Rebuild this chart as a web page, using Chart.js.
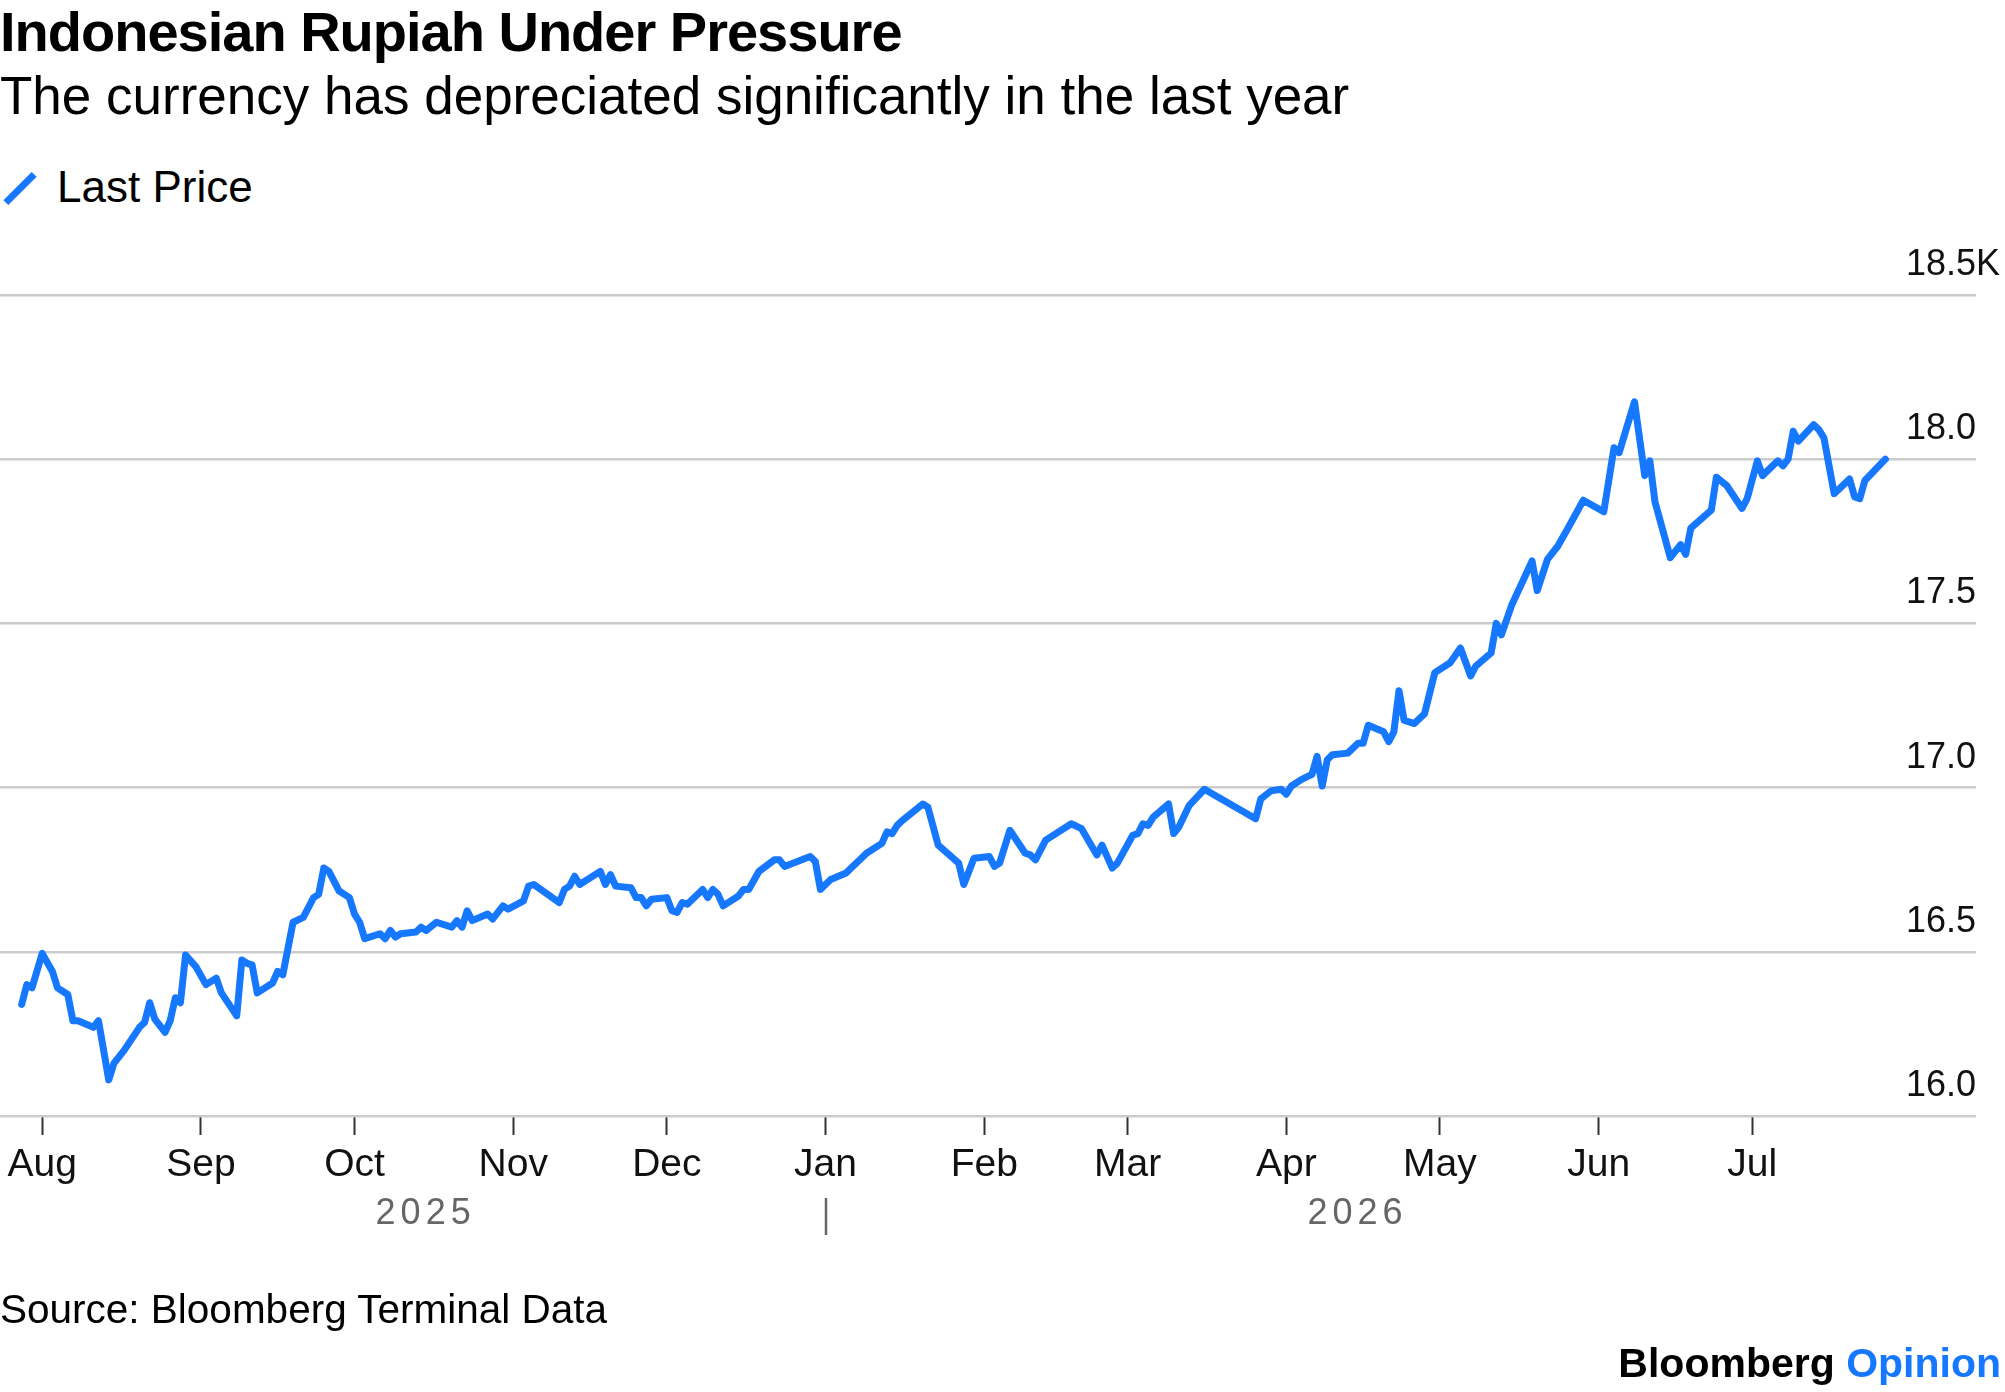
<!DOCTYPE html>
<html lang="en">

<head>
    <meta charset="UTF-8">
    <title>Indonesian Rupiah Under Pressure</title>
    <script src="https://cdn.jsdelivr.net/npm/chart.js"></script>
    <style>
        body {
            margin: 0;
            width: 2005px;
            height: 1392px;
            overflow: hidden;
            background: #fff;
            font-family: "Liberation Sans", Arial, sans-serif;
            color: #000;
        }

        .txt {
            position: absolute;
            white-space: nowrap;
            line-height: 1;
        }

        #chart {
            position: absolute;
            left: 0;
            top: 0;
        }
    </style>
</head>

<body>

    <div class="txt" style="left:0;top:4px;font-size:56px;font-weight:bold;letter-spacing:-1px">Indonesian Rupiah Under Pressure</div>
    <div class="txt" style="left:0;top:69px;font-size:53px">The currency has depreciated significantly in the last year</div>

    <!-- legend -->
    <div style="position:absolute;left:0;top:185px;width:40px;height:7px;background:#1677ff;transform:rotate(-45deg)"></div>
    <div class="txt" style="left:57px;top:165px;font-size:44px">Last Price</div>

    <canvas id="chart" width="2005" height="1392"></canvas>

    <div class="txt" style="left:0;top:1289px;font-size:40.5px">Source: Bloomberg Terminal Data</div>
    <div class="txt" style="right:4px;top:1343px;font-size:41px;font-weight:bold">Bloomberg <span style="color:#1677ff">Opinion</span></div>

    <script>
        // USD/IDR last price
        const dates = [
            '2025-07-28', '2025-07-29', '2025-07-30', '2025-08-01', '2025-08-03', '2025-08-04', '2025-08-05', '2025-08-06',
            '2025-08-07', '2025-08-08', '2025-08-11', '2025-08-12', '2025-08-14', '2025-08-15', '2025-08-17', '2025-08-20',
            '2025-08-21', '2025-08-22', '2025-08-23', '2025-08-25', '2025-08-26', '2025-08-27', '2025-08-28', '2025-08-29',
            '2025-08-31', '2025-09-02', '2025-09-04', '2025-09-05', '2025-09-08', '2025-09-09', '2025-09-10', '2025-09-11',
            '2025-09-12', '2025-09-15', '2025-09-16', '2025-09-17', '2025-09-19', '2025-09-21', '2025-09-23', '2025-09-24',
            '2025-09-25', '2025-09-26', '2025-09-28', '2025-09-30', '2025-10-01', '2025-10-02', '2025-10-03', '2025-10-06',
            '2025-10-07', '2025-10-08', '2025-10-09', '2025-10-10', '2025-10-13', '2025-10-14', '2025-10-15', '2025-10-17',
            '2025-10-20', '2025-10-21', '2025-10-22', '2025-10-23', '2025-10-24', '2025-10-27', '2025-10-28', '2025-10-30',
            '2025-10-31', '2025-11-03', '2025-11-04', '2025-11-05', '2025-11-10', '2025-11-11', '2025-11-12', '2025-11-13',
            '2025-11-14', '2025-11-18', '2025-11-19', '2025-11-20', '2025-11-21', '2025-11-24', '2025-11-25', '2025-11-26',
            '2025-11-27', '2025-11-28', '2025-12-01', '2025-12-02', '2025-12-03', '2025-12-04', '2025-12-05', '2025-12-08',
            '2025-12-09', '2025-12-10', '2025-12-11', '2025-12-12', '2025-12-15', '2025-12-16', '2025-12-17', '2025-12-19',
            '2025-12-22', '2025-12-23', '2025-12-24', '2025-12-29', '2025-12-30', '2025-12-31', '2026-01-02', '2026-01-05',
            '2026-01-06', '2026-01-08', '2026-01-09', '2026-01-12', '2026-01-13', '2026-01-14', '2026-01-15', '2026-01-16',
            '2026-01-20', '2026-01-21', '2026-01-23', '2026-01-27', '2026-01-28', '2026-01-30', '2026-02-02', '2026-02-03',
            '2026-02-04', '2026-02-06', '2026-02-09', '2026-02-10', '2026-02-11', '2026-02-13', '2026-02-14', '2026-02-18',
            '2026-02-20', '2026-02-23', '2026-02-24', '2026-02-26', '2026-02-27', '2026-03-02', '2026-03-03', '2026-03-04',
            '2026-03-05', '2026-03-06', '2026-03-09', '2026-03-10', '2026-03-11', '2026-03-13', '2026-03-16', '2026-03-26',
            '2026-03-27', '2026-03-29', '2026-03-31', '2026-04-01', '2026-04-02', '2026-04-04', '2026-04-06', '2026-04-07',
            '2026-04-08', '2026-04-09', '2026-04-10', '2026-04-13', '2026-04-15', '2026-04-16', '2026-04-17', '2026-04-20',
            '2026-04-21', '2026-04-22', '2026-04-23', '2026-04-24', '2026-04-26', '2026-04-28', '2026-04-30', '2026-05-03',
            '2026-05-05', '2026-05-07', '2026-05-08', '2026-05-11', '2026-05-12', '2026-05-13', '2026-05-15', '2026-05-19',
            '2026-05-20', '2026-05-22', '2026-05-24', '2026-05-26', '2026-05-29', '2026-06-02', '2026-06-04', '2026-06-05',
            '2026-06-08', '2026-06-10', '2026-06-11', '2026-06-12', '2026-06-15', '2026-06-17', '2026-06-18', '2026-06-19',
            '2026-06-23', '2026-06-24', '2026-06-26', '2026-06-29', '2026-06-30', '2026-07-02', '2026-07-03', '2026-07-06',
            '2026-07-07', '2026-07-08', '2026-07-09', '2026-07-10', '2026-07-13', '2026-07-14', '2026-07-15', '2026-07-17',
            '2026-07-20', '2026-07-21', '2026-07-22', '2026-07-23', '2026-07-27'
        ];
        const lastPrice = [
            16340, 16400, 16390, 16495, 16440, 16390, 16380, 16370,
            16290, 16290, 16270, 16290, 16110, 16160, 16200, 16270,
            16285, 16345, 16295, 16255, 16290, 16360, 16345, 16490,
            16455, 16400, 16420, 16375, 16305, 16475, 16465, 16460,
            16375, 16405, 16440, 16430, 16590, 16605, 16665, 16675,
            16755, 16745, 16685, 16665, 16615, 16590, 16540, 16555,
            16540, 16565, 16545, 16555, 16560, 16575, 16565, 16590,
            16575, 16595, 16575, 16625, 16595, 16615, 16600, 16640,
            16630, 16655, 16700, 16705, 16650, 16690, 16700, 16730,
            16705, 16745, 16705, 16735, 16700, 16695, 16665, 16665,
            16640, 16660, 16665, 16625, 16620, 16650, 16645, 16690,
            16665, 16690, 16675, 16640, 16670, 16690, 16690, 16745,
            16780, 16780, 16760, 16790, 16775, 16690, 16720, 16740,
            16755, 16785, 16800, 16830, 16865, 16860, 16885, 16900,
            16950, 16940, 16825, 16770, 16705, 16785, 16790, 16760,
            16770, 16870, 16800, 16795, 16780, 16840, 16850, 16890,
            16875, 16795, 16825, 16755, 16770, 16855, 16860, 16890,
            16885, 16910, 16950, 16860, 16880, 16945, 16995, 16905,
            16965, 16990, 16995, 16980, 17005, 17025, 17040, 17095,
            17005, 17085, 17100, 17105, 17135, 17135, 17190, 17170,
            17140, 17170, 17295, 17205, 17195, 17225, 17350, 17380,
            17425, 17340, 17370, 17410, 17500, 17465, 17555, 17690,
            17600, 17695, 17735, 17790, 17875, 17840, 18035, 18020,
            18175, 17950, 17995, 17870, 17700, 17740, 17710, 17790,
            17845, 17945, 17920, 17850, 17880, 17995, 17950, 17995,
            17980, 18000, 18085, 18055, 18105, 18090, 18065, 17895,
            17940, 17885, 17880, 17935, 18000
        ];

        const monthStarts = ['2025-08-01', '2025-09-01', '2025-10-01', '2025-11-01', '2025-12-01', '2026-01-01',
            '2026-02-01', '2026-03-01', '2026-04-01', '2026-05-01', '2026-06-01', '2026-07-01'];
        const monthLabels = ['Aug', 'Sep', 'Oct', 'Nov', 'Dec', 'Jan', 'Feb', 'Mar', 'Apr', 'May', 'Jun', 'Jul'];
        const yearLabels = ['2025', '2026'];
        const yTicks = [16000, 16500, 17000, 17500, 18000, 18500];

        const BLUE = '#1677ff';
        const FONT = '"Liberation Sans", Arial, sans-serif';

        // days since 1 Aug 2025
        const origin = Date.parse('2025-08-01');
        const dayOf = s => (Date.parse(s) - origin) / 86400000;

        const points = dates.map((d, i) => ({ x: dayOf(d), y: lastPrice[i] }));

        // year captions under the month labels, plus the divider at Jan 1
        const yearPlugin = {
            id: 'years',
            afterDraw(chart) {
                const ctx = chart.ctx;
                const xs = chart.scales.x;
                const yb = chart.chartArea.bottom;
                const jan = dayOf('2026-01-01');
                const first = dayOf(dates[0]);
                const last = dayOf(dates[dates.length - 1]);
                const centres = [(first + jan) / 2, (jan + last) / 2];

                ctx.save();
                ctx.fillStyle = '#666';
                ctx.font = '36px ' + FONT;
                ctx.letterSpacing = '5px';
                ctx.textAlign = 'center';
                ctx.textBaseline = 'middle';
                yearLabels.forEach((t, i) => {
                    ctx.fillText(t, xs.getPixelForValue(centres[i]) + 2, yb + 98);
                });
                const xj = Math.round(xs.getPixelForValue(jan));
                ctx.strokeStyle = '#666';
                ctx.lineWidth = 2.5;
                ctx.beginPath();
                ctx.moveTo(xj, yb + 82);
                ctx.lineTo(xj, yb + 119);
                ctx.stroke();
                ctx.restore();
            }
        };

        new Chart(document.getElementById('chart'), {
            type: 'line',
            data: {
                datasets: [{
                    label: 'Last Price',
                    data: points,
                    borderColor: BLUE,
                    borderWidth: 7,
                    pointRadius: 0,
                    tension: 0,
                    borderJoinStyle: 'round',
                    borderCapStyle: 'round',
                    fill: false
                }]
            },
            options: {
                responsive: false,
                animation: false,
                devicePixelRatio: 1,
                layout: { padding: { top: 295, left: 0, right: 0, bottom: 206 } },
                plugins: {
                    legend: { display: false },
                    tooltip: { enabled: false }
                },
                scales: {
                    x: {
                        type: 'linear',
                        min: -8.24,
                        max: 377.7,
                        afterBuildTicks: s => { s.ticks = monthStarts.map(m => ({ value: dayOf(m) })); },
                        afterFit: s => { s.height = 70; },
                        grid: {
                            drawOnChartArea: false,
                            tickLength: 19,
                            tickColor: '#333',
                            tickWidth: 2
                        },
                        border: { display: false },
                        ticks: {
                            autoSkip: false,
                            maxRotation: 0,
                            padding: 7,
                            color: '#111',
                            font: { family: FONT, size: 39 },
                            callback: (v, i) => monthLabels[i]
                        }
                    },
                    y: {
                        position: 'right',
                        min: 16000,
                        max: 18500,
                        afterBuildTicks: s => { s.ticks = yTicks.map(v => ({ value: v })); },
                        afterFit: s => { s.width = 29; },
                        grid: {
                            color: '#cccccc',
                            lineWidth: 2.5,
                            drawTicks: false
                        },
                        border: { display: false },
                        ticks: {
                            mirror: true,
                            crossAlign: 'far',
                            padding: 24,
                            labelOffset: -30,
                            color: '#111',
                            font: { family: FONT, size: 36 },
                            callback: v => v === 18500 ? '18.5K' : (v / 1000).toFixed(1)
                        }
                    }
                }
            },
            plugins: [yearPlugin]
        });
    </script>

</body>

</html>
